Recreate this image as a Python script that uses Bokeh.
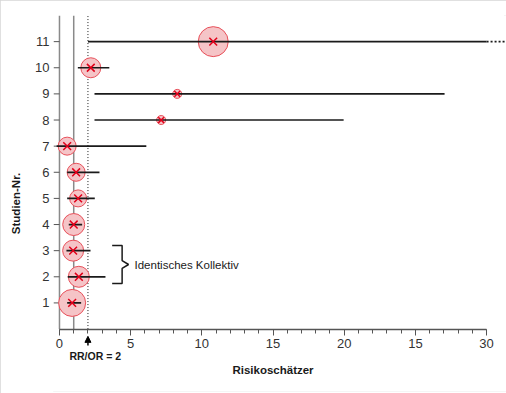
from bokeh.plotting import figure
from bokeh.models import Range1d, FixedTicker, Label, Arrow, NormalHead, ColumnDataSource
from bokeh.embed import file_html
from bokeh.resources import INLINE

# ---- data ----
study = [1, 2, 3, 4, 5, 6, 7, 8, 9, 10, 11]
estimate = [0.89, 1.36, 0.96, 1.0, 1.31, 1.17, 0.54, 7.14, 8.27, 2.2, 10.8]
ci_low = [0.54, 0.58, 0.49, 0.65, 0.54, 0.54, -0.2, 2.46, 2.46, 1.29, 2.0]
ci_high = [1.52, 3.23, 2.18, 1.59, 2.48, 2.81, 6.1, 19.96, 27.05, 3.5, 30.0]
weight = [27, 21, 21, 22, 17, 18, 18, 9, 9, 20, 30]
# study 11's interval continues past the end of the axis
ext_study = [11]
ext_from = [30.0]
ext_to = [31.3]
# bracket around the studies with the identical cohort
same_cohort = [2, 3]
null_value = 1
ref_value = 2
xticks = [0, 5, 10, 15, 20, 25, 30]
xtick_labels = ["0", "5", "10", "15", "20", "15", "30"]
yticks = list(range(1, 12))
y_max = 12

FONT = "Liberation Sans"

src = ColumnDataSource(dict(study=study, est=estimate, lo=ci_low, hi=ci_high,
                            size=weight,
                            xs=[11 if w > 12 else 8 for w in weight]))

p = figure(width=506, height=393, output_backend="svg", toolbar_location=None,
           x_range=Range1d(-0.42, 31.4), y_range=Range1d(-2.39, y_max),
           min_border_left=53, min_border_right=0, min_border_top=15, min_border_bottom=2,
           styles={"outline": "2px solid #d6d6d6", "outline-offset": "-2px"})
p.background_fill_color = "white"
p.border_fill_color = "white"
p.outline_line_color = None
p.grid.visible = False

# y axis line and its ticks at x = 0
p.segment(x0=[0], y0=[0], x1=[0], y1=[y_max], line_color="#8a8a8a", line_width=1.5)
p.segment(x0=[-0.42] * len(yticks), y0=yticks, x1=[0] * len(yticks), y1=yticks,
          line_color="#555555", line_width=1)

# reference lines (null effect and RR/OR = 2)
p.segment(x0=[null_value], y0=[0], x1=[null_value], y1=[y_max], line_color="#8a8a8a", line_width=1.5)
p.segment(x0=[ref_value], y0=[0], x1=[ref_value], y1=[y_max], line_color="#222222", line_width=1,
          line_dash="1 2")

# circles (weights)
p.scatter("est", "study", source=src, size="size", marker="circle",
          fill_color="#f5c4c7", fill_alpha=1.0, line_color="#e8505a", line_width=1)
# confidence intervals
p.segment(x0="lo", y0="study", x1="hi", y1="study", source=src, line_color="#1a1a1a", line_width=1.7)
p.segment(x0=ext_from, y0=ext_study, x1=ext_to, y1=ext_study, line_color="#1a1a1a",
          line_width=1.7, line_dash="2 2")
# point estimates
p.scatter("est", "study", source=src, size="xs", marker="x", line_color="#e2001a", line_width=1.5)

# bracket
top = max(same_cohort) + 0.2
bot = min(same_cohort) - 0.26
mid = (top + bot) / 2
bx0, bx1, btip = 3.7, 4.4, 4.85
p.line([bx0, bx1, bx1, btip, bx1, bx1, bx0],
       [top, top, mid + 0.15, mid, mid - 0.15, bot, bot], line_color="#1a1a1a", line_width=1.5)
p.add_layout(Label(x=5.27, y=mid, text="Identisches Kollektiv", text_baseline="middle",
                   text_font=FONT, text_font_size="11.5px", text_color="#1a1a1a"))

# arrow marking RR/OR = 2
p.add_layout(Arrow(x_start=ref_value, y_start=-0.63, x_end=ref_value, y_end=-0.28,
                   line_color="black", line_width=1.5,
                   end=NormalHead(size=6, fill_color="black", line_color="black")))
p.add_layout(Label(x=0.7, y=-1.05, text="RR/OR = 2", text_baseline="middle",
                   text_font=FONT, text_font_style="bold", text_font_size="10.5px",
                   text_color="#1a1a1a"))

# axes
xa = p.xaxis[0]
xa.fixed_location = 0
xa.ticker = FixedTicker(ticks=xticks, minor_ticks=list(range(0, 31)))
xa.major_label_overrides = {t: l for t, l in zip(xticks, xtick_labels)}
xa.bounds = (0, 30)
xa.axis_line_color = "#555555"
xa.axis_line_width = 1.3
xa.major_tick_line_color = "#555555"
xa.minor_tick_line_color = "#555555"
xa.major_tick_in = 0
xa.major_tick_out = 6
xa.minor_tick_in = 0
xa.minor_tick_out = 4
xa.major_label_standoff = 4
xa.major_label_text_font = FONT
xa.major_label_text_font_size = "13px"
xa.major_label_text_color = "#333333"
xa.axis_label = "Risikoschätzer"
xa.axis_label_text_font = FONT
xa.axis_label_text_font_style = "bold"
xa.axis_label_text_font_size = "11.5px"
xa.axis_label_text_color = "#1a1a1a"
xa.axis_label_standoff = 12

ya = p.yaxis[0]
ya.ticker = FixedTicker(ticks=yticks, minor_ticks=[])
ya.axis_line_color = None
ya.major_tick_line_color = None
ya.major_tick_in = 0
ya.major_tick_out = 1
ya.major_label_standoff = 3
ya.major_label_text_font = FONT
ya.major_label_text_font_size = "13px"
ya.major_label_text_color = "#333333"
ya.axis_label = "Studien-Nr."
ya.axis_label_text_font = FONT
ya.axis_label_text_font_style = "bold"
ya.axis_label_text_font_size = "11.5px"
ya.axis_label_text_color = "#1a1a1a"
ya.axis_label_standoff = 10

open("out.html", "w").write(file_html(p, INLINE))
